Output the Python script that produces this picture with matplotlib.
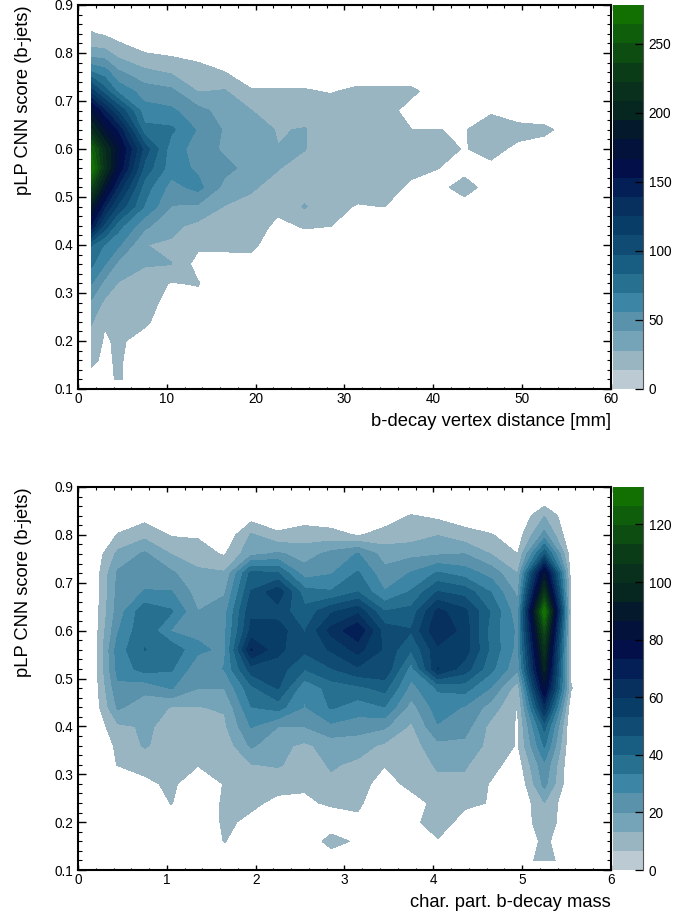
import numpy as np
import matplotlib
matplotlib.use("Agg")
import matplotlib.pyplot as plt
from matplotlib.colors import ListedColormap, BoundaryNorm
from matplotlib.ticker import MultipleLocator

plt.rcParams['font.family'] = ['Liberation Sans', 'DejaVu Sans']

score_bins = [0.12, 0.16, 0.20, 0.24, 0.28, 0.32, 0.36, 0.40, 0.44, 0.48,
              0.52, 0.56, 0.60, 0.64, 0.68, 0.72, 0.76, 0.80, 0.84, 0.88]

# top panel, one list per distance bin, values along score_bins
dist_bins = [1.5, 3.0, 4.5, 7.5, 10.5, 13.5, 16.5, 19.5, 22.5, 25.5, 28.5,
             31.5, 34.5, 37.5, 40.5, 43.5, 46.5, 49.5, 52.5, 55.5, 58.5]
dist_counts = [
    [5, 19, 23, 29, 39, 56, 72, 84, 150, 190, 235, 278, 262, 210, 175, 118, 70, 33, 15, 4],
    [5, 9, 12, 15, 25, 37, 56, 68, 105, 140, 180, 215, 210, 175, 140, 90, 62, 32, 12, 2],
    [17, 17, 16, 18, 23, 27, 38, 58, 75, 108, 135, 165, 172, 150, 110, 66, 44, 22, 8, 0],
    [0, 0, 9, 16, 20, 20, 29, 28, 45, 68, 76, 92, 105, 74, 61, 49, 31, 14, 6, 0],
    [0, 0, 2, 6, 8, 13, 28, 26, 31, 41, 50, 62, 62, 72, 58, 45, 26, 11, 3, 0],
    [0, 0, 0, 3, 7, 15, 8, 17, 24, 39, 60, 53, 50, 54, 46, 27, 18, 10, 2, 0],
    [0, 0, 0, 0, 0, 0, 10, 16, 20, 27, 37, 46, 39, 40, 36, 29, 14, 7, 0, 0],
    [0, 0, 0, 0, 0, 0, 9, 17, 20, 25, 29, 36, 35, 33, 28, 15, 7, 0, 0, 0],
    [0, 0, 0, 0, 0, 0, 0, 5, 11, 17, 24, 28.3, 28, 27, 20, 15, 8, 0, 0, 0],
    [0, 0, 0, 0, 0, 0, 0, 8, 15, 29, 21, 23, 28.2, 28.5, 22, 15, 7, 0, 0, 0],
    [0, 0, 0, 0, 0, 0, 0, 5, 14, 17, 20, 22, 20, 20, 20, 13, 6, 0, 0, 0],
    [0, 0, 0, 0, 0, 0, 0, 2, 6, 13, 19, 22, 22, 20, 18, 17, 5, 0, 0, 0],
    [0, 0, 0, 0, 0, 0, 0, 1, 3, 14, 20, 24, 22, 22, 20, 17, 4, 0, 0, 0],
    [0, 0, 0, 0, 0, 0, 0, 0, 1, 8, 11, 18, 19, 14.1, 8, 17, 4, 0, 0, 0],
    [0, 0, 0, 0, 0, 0, 0, 0, 0, 2, 6, 14.2, 19, 14.1, 3, 7, 0, 0, 0, 0],
    [0, 0, 0, 0, 0, 0, 0, 0, 0, 3, 24, 5, 13, 13, 2, 0, 0, 0, 0, 0],
    [0, 0, 0, 0, 0, 0, 0, 0, 0, 0, 3, 10, 19, 21, 12, 0, 0, 0, 0, 0],
    [0, 0, 0, 0, 0, 0, 0, 0, 0, 0, 0, 0, 10, 20, 3, 0, 0, 0, 0, 0],
    [0, 0, 0, 0, 0, 0, 0, 0, 0, 0, 0, 0, 5, 18, 1, 0, 0, 0, 0, 0],
    [0, 0, 0, 0, 0, 0, 0, 0, 0, 0, 0, 0, 0, 6, 0, 0, 0, 0, 0, 0],
    [0, 0, 0, 0, 0, 0, 0, 0, 0, 0, 0, 0, 0, 0, 0, 0, 0, 0, 0, 0],
]

# bottom panel, one list per mass bin
mass_bins = [0.15, 0.45, 0.75, 1.05, 1.35, 1.65, 1.95, 2.25, 2.55, 2.85,
             3.15, 3.45, 3.75, 4.05, 4.35, 4.65, 4.95, 5.25, 5.55, 5.85]
mass_counts = [
    [0, 0, 0, 0, 0, 0, 0, 0, 0, 0, 0, 0, 0, 0, 0, 0, 0, 0, 0, 0],
    [0, 0, 0, 0, 0, 7, 8, 12, 21, 25, 29, 30, 26, 23, 22, 21, 15, 7, 2, 0],
    [0, 0, 0, 0, 5, 9, 14, 14, 16, 22, 36, 40, 39, 38, 27, 24, 21, 11, 4, 0],
    [0, 0, 2, 7, 8, 9, 10, 12, 13, 27, 34, 38, 26, 34, 27, 21, 13, 6, 1, 0],
    [0, 0, 0, 0, 2, 7, 9, 10, 13, 20, 22, 28, 25, 20, 17, 15, 9, 6, 1, 0],
    [0, 7, 8, 8, 7, 8, 9, 12, 14, 20, 27, 25, 25, 24, 19, 14, 6, 1, 0, 0],
    [0, 0, 5, 8, 9, 13, 21, 27, 33, 38, 50, 67, 55, 52, 47, 42, 18, 14, 3, 0],
    [0, 0, 1, 5, 9, 14, 15, 20, 36, 47, 50, 55, 57, 50, 58, 40, 21, 8, 1, 0],
    [0, 0, 0, 5, 8, 10, 12, 20, 26, 28, 40, 48, 46, 42, 36, 23, 17, 10, 3, 0],
    [1, 10, 1, 8, 12, 14, 16, 25, 34, 36, 46, 54, 62, 52, 34, 26, 22, 9, 2, 0],
    [0, 5, 5, 8, 10, 12, 16, 23, 30, 38, 52, 62, 72, 58, 40, 34, 27, 6, 2, 0],
    [0, 0, 0, 1, 3, 7, 12, 21, 33, 42, 52, 52, 50, 40, 27, 22, 17, 9, 3, 0],
    [0, 0, 3, 3, 9, 10, 10, 12, 17, 24, 30, 40, 47, 42, 34, 27, 18, 10, 7, 0],
    [0, 5.5, 13, 9, 12, 14, 18, 26, 30, 34, 60, 58, 66, 62, 47, 34, 19, 13, 5, 0],
    [0, 0, 2, 9, 12, 14, 18, 23, 26, 36, 50, 57, 57, 55, 44, 30, 20, 9, 3, 0],
    [0, 0, 0, 6, 6, 9, 11, 11, 17, 26, 35, 38, 37, 39, 33, 24, 13, 7, 1, 0],
    [0, 0, 0, 0, 0, 3, 6, 6, 6, 9, 21, 24, 25, 22, 18, 13, 6.6, 3, 0, 0],
    [11, 8.5, 12, 13, 22, 25, 34, 42, 62, 82, 95, 103, 115, 133, 105, 85, 45, 22, 13, 0],
    [0, 0, 0, 0, 0, 0, 0, 0, 1, 7, 3, 3, 3, 3, 3, 3, 2, 0, 0, 0],
    [0, 0, 0, 0, 0, 0, 0, 0, 0, 0, 0, 0, 0, 0, 0, 0, 0, 0, 0, 0],
]

dist_max = 278
mass_max = 133
dist_ticks = [0, 50, 100, 150, 200, 250]
mass_ticks = [0, 20, 40, 60, 80, 100, 120]

band_colors = ['#bccbd3', '#98b5c1', '#75a3b7', '#5a92ac', '#3c85a5', '#27708f',
               '#185e83', '#0f4b72', '#083d67', '#07305f', '#041f56', '#020f48',
               '#02123a', '#041a2c', '#062620', '#08301c', '#0a3d17', '#0d4d12',
               '#0f5e0b', '#127003']

W, H = 696.0, 918.0
TICK_SIZE = 9.8
LABEL_SIZE = 13.2


def box(x0, y0, x1, y1):
    # pixel box (y from the top) to figure fractions
    return [x0 / W, 1 - y1 / H, (x1 - x0) / W, (y1 - y0) / H]


def panel(fig, top, bottom, xs, counts, zmax, zticks, xmax, xmajor, xminor, xlabel):
    ax = fig.add_axes(box(78, top, 611, bottom))
    levels = np.linspace(0, zmax, len(band_colors) + 1)
    z = np.array(counts, dtype=float).T
    cs = ax.contourf(xs, score_bins, z, levels=levels[1:], colors=band_colors[1:], extend='neither')
    cs.set_edgecolor('face')
    cs.set_linewidth(0.2)
    ax.set_xlim(0, xmax)
    ax.set_ylim(0.1, 0.9)
    ax.xaxis.set_major_locator(MultipleLocator(xmajor))
    ax.xaxis.set_minor_locator(MultipleLocator(xminor))
    ax.yaxis.set_minor_locator(MultipleLocator(0.02))
    ax.tick_params(axis='x', which='major', direction='in', top=True, length=3.6, width=1.0, labelsize=TICK_SIZE, pad=2.5)
    ax.tick_params(axis='x', which='minor', direction='in', top=True, length=1.8, width=0.8)
    ax.tick_params(axis='y', which='major', direction='in', right=True, length=5.8, width=1.0, labelsize=TICK_SIZE, pad=3.5)
    ax.tick_params(axis='y', which='minor', direction='in', right=True, length=2.9, width=0.8)
    for s in ax.spines.values():
        s.set_linewidth(1.5)
    ax.set_yticks(np.arange(0.1, 0.95, 0.1))
    ax.set_yticklabels(['%.1f' % t for t in np.arange(0.1, 0.95, 0.1)])
    ax.set_xlabel(xlabel, fontsize=LABEL_SIZE, loc='right', labelpad=4.5)
    ax.set_ylabel('pLP CNN score (b-jets)', fontsize=LABEL_SIZE, loc='top', labelpad=16)

    cax = fig.add_axes(box(613, top, 643, bottom))
    cmap = ListedColormap(band_colors)
    norm = BoundaryNorm(levels, cmap.N)
    cax.pcolormesh([0, 1], levels, np.array(levels[:-1]).reshape(-1, 1) + zmax / 1000.0, cmap=cmap, norm=norm)
    cax.set_xlim(0, 1)
    cax.set_ylim(0, zmax)
    cax.set_xticks([])
    cax.yaxis.tick_right()
    cax.set_yticks(zticks)
    cax.tick_params(axis='y', direction='in', length=5.8, width=0.9, labelsize=TICK_SIZE, pad=4)
    for name, s in cax.spines.items():
        s.set_visible(name == 'right')
        s.set_color('#555555')
        s.set_linewidth(0.8)


fig = plt.figure(figsize=(6.96, 9.18), dpi=100)
panel(fig, 5, 389, dist_bins, dist_counts, dist_max, dist_ticks, 60, 10, 2, 'b-decay vertex distance [mm]')
panel(fig, 487, 870, mass_bins, mass_counts, mass_max, mass_ticks, 6, 1, 0.2, 'char. part. b-decay mass')
fig.savefig('out.png', dpi=100)
